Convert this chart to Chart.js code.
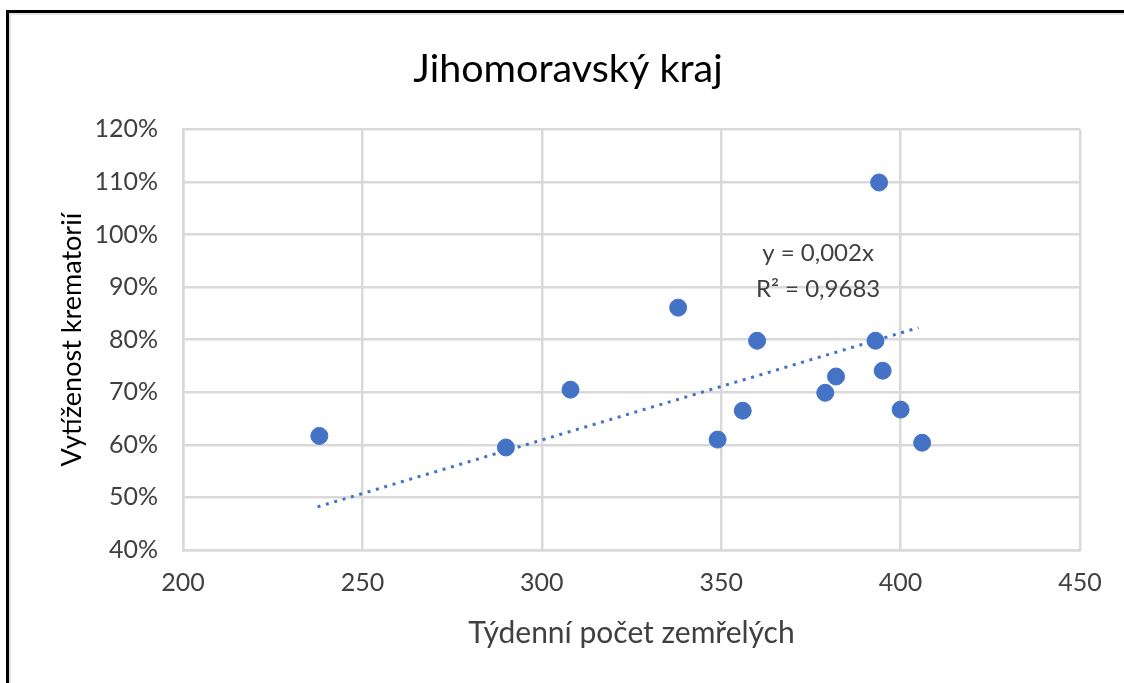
<!DOCTYPE html>
<html>
<head>
<meta charset="utf-8">
<script src="https://cdn.jsdelivr.net/npm/chart.js@4"></script>
<style>
  body { margin: 0; background: #fff; }
  #frame {
    position: absolute; left: 6px; top: 10px; right: -10px; bottom: -10px;
    border-left: 3px solid #000; border-top: 3px solid #000;
    box-shadow: inset 2px 2px 0 #e3e3e3;
  }
  #myChart { position: absolute; left: 0; top: 0; }
</style>
</head>
<body>
<div id="frame"></div>
<canvas id="myChart" width="1124" height="683"></canvas>
<script>
// týdenní počet zemřelých vs. vytíženost krematorií
const pocetZemrelych = [238, 290, 308, 338, 349, 356, 360, 379, 382, 394, 393, 395, 400, 406];
const vytizenost = [0.617, 0.595, 0.705, 0.861, 0.61, 0.665, 0.798, 0.699, 0.73, 1.099, 0.798, 0.741, 0.667, 0.604];

// spojnice trendu (konce)
const trendX = [237.5, 405];
const trendY = [0.482, 0.823];

const rovnice = ["y = 0,002x", "R² = 0,9683"];

const modra = "#4472C4";
const seda = "#d9d9d9";
const textBarva = "#404040";
const pismo = "Lato, 'Open Sans', sans-serif";

const body = pocetZemrelych.map((x, i) => ({ x: x, y: vytizenost[i] }));
const trend = trendX.map((x, i) => ({ x: x, y: trendY[i] }));

// popisek rovnice trendu
const rovnicePlugin = {
  id: "rovnice",
  afterDatasetsDraw(chart) {
    const ctx = chart.ctx;
    const x = chart.scales.x.getPixelForValue(377);
    const y1 = chart.scales.y.getPixelForValue(0.964);
    const y2 = chart.scales.y.getPixelForValue(0.895);
    ctx.save();
    ctx.font = "24px " + pismo;
    ctx.fillStyle = textBarva;
    ctx.textAlign = "center";
    ctx.textBaseline = "middle";
    ctx.fillText(rovnice[0], x, y1);
    ctx.fillText(rovnice[1], x, y2);
    ctx.restore();
  }
};

const config = {
  type: "scatter",
  data: {
    datasets: [
      {
        label: "Vytíženost",
        data: body,
        backgroundColor: modra,
        borderColor: modra,
        pointRadius: 8.5,
        pointHoverRadius: 8.5,
        order: 0,
      },
      {
        label: "Trend",
        type: "line",
        data: trend,
        borderColor: modra,
        borderWidth: 3,
        borderDash: [3, 5.7],
        pointRadius: 0,
        fill: false,
        order: 1,
      },
    ],
  },
  options: {
    responsive: false,
    animation: false,
    layout: { padding: { left: 56, right: 44, top: 0, bottom: 0 } },
    plugins: {
      legend: { display: false },
      tooltip: { enabled: false },
      title: {
        display: true,
        text: "Jihomoravský kraj",
        color: "#000",
        font: { family: pismo, size: 39.5, weight: "normal" },
        padding: { top: 46, bottom: 36 },
      },
    },
    scales: {
      x: {
        type: "linear",
        min: 200,
        max: 450,
        ticks: { stepSize: 50, color: textBarva, font: { family: pismo, size: 25 }, padding: 18, maxRotation: 0 },
        grid: { color: seda, lineWidth: 2.5, drawTicks: false },
        border: { color: seda, width: 2.5 },
        title: {
          display: true,
          text: "Týdenní počet zemřelých",
          color: textBarva,
          font: { family: pismo, size: 30 },
          padding: { top: 0, bottom: 32 },
        },
        afterFit(scale) { scale.height = 133; },
      },
      y: {
        min: 0.4,
        max: 1.2,
        ticks: {
          stepSize: 0.1,
          color: textBarva,
          font: { family: pismo, size: 25 },
          padding: 25,
          callback: (v) => Math.round(v * 100) + "%",
        },
        grid: { color: seda, lineWidth: 2.5, drawTicks: false },
        border: { color: seda, width: 2.5 },
        title: {
          display: true,
          text: "Vytíženost krematorií",
          color: "#000",
          font: { family: pismo, size: 27 },
          padding: { top: 0, bottom: 0 },
        },
        afterFit(scale) { scale.width = 127; },
      },
    },
  },
  plugins: [rovnicePlugin],
};

const ctx = document.getElementById("myChart").getContext("2d");
const myChart = new Chart(ctx, config);
</script>
</body>
</html>
